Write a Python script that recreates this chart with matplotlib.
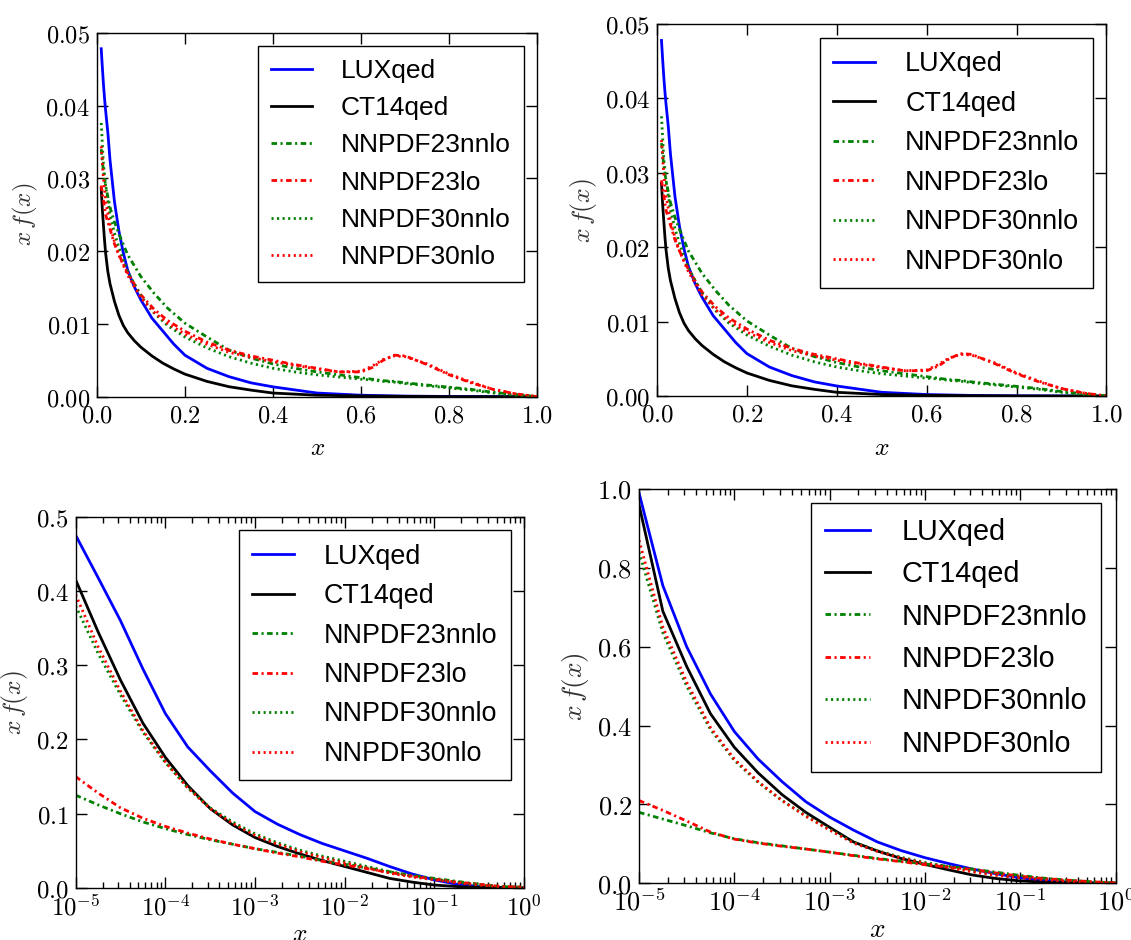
import numpy as np
import matplotlib
matplotlib.use('Agg')
import matplotlib.pyplot as plt
from matplotlib.ticker import FuncFormatter, LogLocator, MultipleLocator, NullFormatter

plt.rcParams['mathtext.fontset'] = 'cm'
plt.rcParams['lines.scale_dashes'] = False

# ---------------- linear-x panels (top row) ----------------
lin_x_solid = [0.01, 0.0125, 0.015, 0.0175, 0.02, 0.025, 0.03, 0.04, 0.05, 0.06, 0.07,
               0.085, 0.1, 0.125, 0.15, 0.175, 0.2, 0.25, 0.3, 0.35, 0.4, 0.5, 0.6,
               0.7, 0.8, 0.9, 1.0]
lin_lux = [0.0478, 0.0453, 0.0430, 0.0410, 0.0393, 0.0363, 0.0325, 0.0268, 0.0228, 0.0198,
           0.0174, 0.0151, 0.0133, 0.0108, 0.0090, 0.0072, 0.0057, 0.0039, 0.00275, 0.0019,
           0.00135, 0.0005, 0.0002, 0.00008, 0.00003, 0.00001, 0.0]
lin_ct14 = [0.0286, 0.0258, 0.0236, 0.0215, 0.0197, 0.0172, 0.0155, 0.0131, 0.0112, 0.0098,
            0.0088, 0.0077, 0.0068, 0.0056, 0.0046, 0.0038, 0.0031, 0.0021, 0.00137, 0.0009,
            0.0005, 0.0002, 0.0001, 0.00004, 0.00001, 0.0, 0.0]

lin_x_nn = [0.01, 0.015, 0.02, 0.03, 0.04, 0.05, 0.07, 0.1, 0.13, 0.16, 0.2, 0.25, 0.3, 0.35,
            0.4, 0.45, 0.5, 0.55, 0.6, 0.625, 0.65, 0.675, 0.7, 0.75, 0.8, 0.85, 0.9, 0.95, 1.0]
lin_nn23nnlo = [0.034, 0.031, 0.029, 0.026, 0.024, 0.0224, 0.0195, 0.0165, 0.0142, 0.0122,
                0.0101, 0.0082, 0.0064, 0.0053, 0.0045, 0.0039, 0.0034, 0.0030, 0.0026, 0.0024,
                0.0022, 0.0021, 0.0019, 0.0016, 0.0013, 0.0010, 0.0006, 0.0003, 0.0]
lin_nn23lo = [0.029, 0.027, 0.025, 0.023, 0.021, 0.0195, 0.0170, 0.0140, 0.0120, 0.0105,
              0.0090, 0.0075, 0.0064, 0.0056, 0.0050, 0.0044, 0.0039, 0.0034, 0.0034, 0.0040,
              0.0050, 0.0057, 0.0056, 0.0044, 0.0030, 0.0019, 0.0010, 0.0004, 0.0]
lin_nn30nnlo = [0.0376, 0.032, 0.029, 0.025, 0.0225, 0.0205, 0.0172, 0.0138, 0.0115, 0.0098,
                0.0082, 0.0067, 0.0055, 0.0046, 0.0039, 0.0034, 0.0030, 0.0027, 0.0024, 0.0023,
                0.0021, 0.0020, 0.0018, 0.0015, 0.0012, 0.0009, 0.0005, 0.0002, 0.0]
lin_nn30nlo = [0.0344, 0.030, 0.027, 0.0235, 0.0213, 0.0195, 0.0167, 0.0136, 0.0116, 0.0101,
               0.0086, 0.0072, 0.0061, 0.0054, 0.0048, 0.0043, 0.0038, 0.0034, 0.0035, 0.0042,
               0.0051, 0.0056, 0.0055, 0.0045, 0.0031, 0.0020, 0.0010, 0.0004, 0.0]

# ---------------- log-x panels (bottom row), four points per decade ----------------
log_x = [1e-5, 1.778e-5, 3.162e-5, 5.623e-5,
         1e-4, 1.778e-4, 3.162e-4, 5.623e-4,
         1e-3, 1.778e-3, 3.162e-3, 5.623e-3,
         1e-2, 1.778e-2, 3.162e-2, 5.623e-2,
         0.1, 0.1778, 0.3162, 0.5623, 1.0]

# bottom-left
bl_lux = [0.475, 0.418, 0.360, 0.295, 0.235, 0.190, 0.158, 0.128, 0.103, 0.086, 0.072,
          0.060, 0.050, 0.040, 0.029, 0.019, 0.011, 0.005, 0.002, 0.0008, 0.0]
bl_ct14 = [0.415, 0.345, 0.280, 0.222, 0.176, 0.138, 0.107, 0.085, 0.068, 0.056, 0.046,
           0.037, 0.029, 0.021, 0.013, 0.008, 0.004, 0.002, 0.0008, 0.0003, 0.0]
bl_nn23nnlo = [0.125, 0.112, 0.100, 0.089, 0.080, 0.072, 0.065, 0.059, 0.053, 0.048, 0.043,
               0.037, 0.032, 0.027, 0.022, 0.017, 0.013, 0.009, 0.005, 0.002, 0.001]
bl_nn23lo = [0.150, 0.128, 0.108, 0.094, 0.083, 0.074, 0.066, 0.059, 0.053, 0.047, 0.042,
             0.036, 0.031, 0.026, 0.021, 0.016, 0.012, 0.008, 0.005, 0.002, 0.001]
bl_nn30nnlo = [0.380, 0.316, 0.260, 0.210, 0.169, 0.135, 0.108, 0.089, 0.073, 0.061, 0.051,
               0.043, 0.036, 0.029, 0.022, 0.016, 0.012, 0.008, 0.004, 0.002, 0.001]
bl_nn30nlo = [0.395, 0.325, 0.265, 0.212, 0.170, 0.135, 0.107, 0.087, 0.071, 0.059, 0.049,
              0.041, 0.034, 0.027, 0.020, 0.015, 0.011, 0.007, 0.004, 0.002, 0.001]

# bottom-right
br_lux = [0.990, 0.755, 0.600, 0.480, 0.385, 0.315, 0.258, 0.207, 0.168, 0.135, 0.105,
          0.083, 0.065, 0.050, 0.036, 0.024, 0.014, 0.007, 0.003, 0.001, 0.0]
br_ct14 = [0.960, 0.690, 0.550, 0.430, 0.345, 0.280, 0.225, 0.180, 0.142, 0.105, 0.082,
           0.063, 0.048, 0.034, 0.021, 0.012, 0.006, 0.003, 0.001, 0.0004, 0.0]
br_nn23nnlo = [0.180, 0.163, 0.146, 0.128, 0.113, 0.103, 0.095, 0.087, 0.079, 0.071, 0.063,
               0.056, 0.049, 0.043, 0.036, 0.028, 0.020, 0.013, 0.008, 0.004, 0.001]
br_nn23lo = [0.210, 0.185, 0.158, 0.130, 0.112, 0.102, 0.094, 0.087, 0.079, 0.070, 0.062,
             0.055, 0.047, 0.041, 0.035, 0.026, 0.018, 0.012, 0.008, 0.004, 0.001]
br_nn30nnlo = [0.840, 0.635, 0.500, 0.390, 0.312, 0.256, 0.210, 0.171, 0.137, 0.104, 0.083,
               0.066, 0.053, 0.042, 0.031, 0.022, 0.015, 0.010, 0.005, 0.002, 0.001]
br_nn30nlo = [0.870, 0.650, 0.510, 0.395, 0.315, 0.258, 0.210, 0.170, 0.135, 0.102, 0.081,
              0.064, 0.051, 0.040, 0.029, 0.020, 0.014, 0.009, 0.005, 0.002, 0.001]

labels = ['LUXqed', 'CT14qed', 'NNPDF23nnlo', 'NNPDF23lo', 'NNPDF30nnlo', 'NNPDF30nlo']
colors = ['blue', 'black', 'green', 'red', 'green', 'red']
dashdot = (0, (4, 2.5, 1.5, 2.5))
dotted = (0, (1.5, 2.5))
styles = ['-', '-', dashdot, dashdot, dotted, dotted]

fig = plt.figure(figsize=(11.31, 9.40), dpi=100)

panels = [
    dict(rect=[0.0856, 0.578, 0.3895, 0.3872], log=False, ymax=0.05, ystep=0.01, yfmt='%.2f',
         scale=1.0, xpad=6,
         xs=[lin_x_solid, lin_x_solid, lin_x_nn, lin_x_nn, lin_x_nn, lin_x_nn],
         ys=[lin_lux, lin_ct14, lin_nn23nnlo, lin_nn23lo, lin_nn30nnlo, lin_nn30nlo]),
    dict(rect=[0.5809, 0.5787, 0.3974, 0.3957], log=False, ymax=0.05, ystep=0.01, yfmt='%.2f',
         scale=1.025, xpad=6,
         xs=[lin_x_solid, lin_x_solid, lin_x_nn, lin_x_nn, lin_x_nn, lin_x_nn],
         ys=[lin_lux, lin_ct14, lin_nn23nnlo, lin_nn23lo, lin_nn30nnlo, lin_nn30nlo]),
    dict(rect=[0.0669, 0.0553, 0.3964, 0.3950], log=True, ymax=0.5, ystep=0.1, yfmt='%.1f',
         scale=1.02, xpad=0,
         xs=[log_x] * 6,
         ys=[bl_lux, bl_ct14, bl_nn23nnlo, bl_nn23lo, bl_nn30nnlo, bl_nn30nlo]),
    dict(rect=[0.565, 0.0603, 0.4214, 0.4195], log=True, ymax=1.0, ystep=0.2, yfmt='%.1f',
         scale=1.09, xpad=0,
         xs=[log_x] * 6,
         ys=[br_lux, br_ct14, br_nn23nnlo, br_nn23lo, br_nn30nnlo, br_nn30nlo]),
]

for p in panels:
    s = p['scale']
    ax = fig.add_axes(p['rect'])
    for xv, yv, lab, c, ls in zip(p['xs'], p['ys'], labels, colors, styles):
        ax.plot(xv, yv, color=c, linestyle=ls, linewidth=2.0, label=lab)

    if p['log']:
        ax.set_xscale('log')
        ax.set_xlim(1e-5, 1.0)
        ax.xaxis.set_major_locator(LogLocator(base=10, numticks=10))
        ax.xaxis.set_minor_locator(LogLocator(base=10, subs=np.arange(2, 10), numticks=10))
        ax.xaxis.set_major_formatter(FuncFormatter(lambda v, pos: r'$10^{%d}$' % int(round(np.log10(v)))))
        ax.xaxis.set_minor_formatter(NullFormatter())
    else:
        ax.set_xlim(0, 1.0)
        ax.xaxis.set_major_locator(MultipleLocator(0.2))
        ax.xaxis.set_major_formatter(FuncFormatter(lambda v, pos: r'$%.1f$' % v))

    ax.set_ylim(0, p['ymax'])
    ax.yaxis.set_major_locator(MultipleLocator(p['ystep']))
    fmt = p['yfmt']
    ax.yaxis.set_major_formatter(FuncFormatter(lambda v, pos, fmt=fmt: '$' + fmt % v + '$'))

    ax.tick_params(which='both', direction='in', top=True, right=True, width=1,
                   labelsize=17.5 * s, pad=5)
    ax.tick_params(which='major', length=8)
    ax.tick_params(which='minor', length=4)
    for sp in ax.spines.values():
        sp.set_linewidth(1.0)

    ax.set_xlabel(r'$x$', fontsize=18 * s, labelpad=p['xpad'])
    ax.set_ylabel(r'$x\,f(x)$', fontsize=18 * s, color='#333333')

    leg = ax.legend(loc='upper right', prop={'family': 'Liberation Sans', 'size': 19 * s},
                    handlelength=1.55, handletextpad=1.1, labelspacing=0.5,
                    borderpad=0.5, borderaxespad=0.5, fancybox=False, framealpha=1)
    leg.get_frame().set_edgecolor('black')
    leg.get_frame().set_linewidth(1.0)

fig.savefig('out.png', dpi=100)
